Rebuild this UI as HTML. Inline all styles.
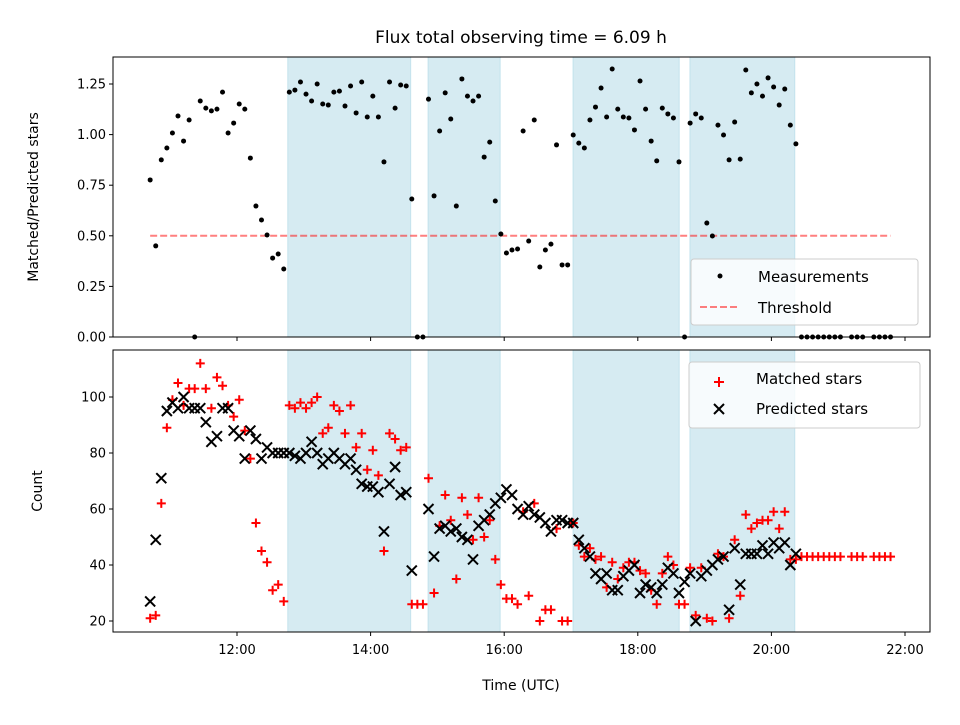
<!DOCTYPE html>
<html><head><meta charset="utf-8"><style>
body{margin:0;background:#fff;}
svg text{font-family:"DejaVu Sans","Liberation Sans",sans-serif;fill:#000;}
</style></head><body>
<svg id="chart" width="960" height="720" viewBox="0 0 960 720" xmlns="http://www.w3.org/2000/svg">
<rect width="960" height="720" fill="#fff"/>
<text x="521" y="43" font-size="17" text-anchor="middle">Flux total observing time = 6.09 h</text>
<g id="top"></g><g id="bot"></g>
</svg>
<script>
// time grid: start 10:42 UTC, one sample every 5 minutes
const startMinute = 642;
const stepMinutes = 5;
const ratio = [0.776,0.45,0.875,0.934,1.008,1.092,0.968,1.072,0,1.166,1.131,1.117,1.126,1.21,1.008,1.057,1.151,1.126,0.884,0.647,0.578,0.504,0.39,0.41,0.336,1.21,1.22,1.26,1.2,1.166,1.25,1.151,1.146,1.21,1.215,1.141,1.24,1.107,1.26,1.087,1.19,1.087,0.865,1.26,1.131,1.245,1.24,0.682,0,0,1.175,0.697,1.018,1.206,1.077,0.647,1.275,1.19,1.166,1.19,0.889,0.963,0.672,0.509,0.415,0.43,0.435,1.018,0.474,1.072,0.346,0.43,0.459,0.949,0.356,0.356,0.998,0.958,0.934,1.072,1.136,1.23,1.087,1.324,1.126,1.087,1.082,1.023,1.265,1.126,0.968,0.87,1.131,1.102,1.082,0.865,0,1.057,1.102,1.082,0.563,0.499,1.047,0.998,0.875,1.062,0.879,1.319,1.206,1.25,1.19,1.28,1.235,1.146,1.225,1.047,0.954,0,0,0,0,0,0,0,0,null,0,0,0,null,0,0,0,0];
const predicted = [27,49,71,95,98,96,100,96,96,96,91,84,86,96,96,88,86,78,88,85,78,82,80,80,80,80,79,78,80,84,80,76,78,80,78,76,78,74,69,68,68,66,52,69,75,65,66,38,null,null,60,43,53,54,52,53,50,49,42,54,56,58,62,64,67,65,60,58,61,58,57,55,52,56,56,55,55,49,46,43,37,35,37,31,31,36,38,40,30,33,32,30,33,39,37,30,34,37,20,36,38,40,42,43,24,46,33,44,44,44,47,44,48,46,48,40,44];
const matched = [21,22,62,89,99,105,97,103,103,112,103,96,107,104,97,93,99,88,78,55,45,41,31,33,27,97,96,98,96,98,100,87,89,97,95,87,97,82,87,74,81,72,45,87,85,81,82,26,26,26,71,30,54,65,56,35,64,58,49,64,50,56,42,33,28,28,26,59,29,62,20,24,24,53,20,20,55,47,43,46,42,43,32,41,35,39,41,41,38,37,31,26,37,43,40,26,26,39,22,39,21,20,44,43,21,49,29,58,53,55,56,56,59,53,59,42,42,43,43,43,43,43,43,43,43,null,43,43,43,null,43,43,43,43];
const spans = [[12.76,14.60],[14.86,15.94],[17.03,18.62],[18.78,20.35]];
const threshold = 0.5;
const topTicks = [0,0.25,0.5,0.75,1.0,1.25];
const topTickLabels = ["0.00","0.25","0.50","0.75","1.00","1.25"];
const botTicks = [20,40,60,80,100];
const xTicks = [12,14,16,18,20,22];
const xTickLabels = ["12:00","14:00","16:00","18:00","20:00","22:00"];

const NS="http://www.w3.org/2000/svg";
const L=113,R=930;
const xs=h=>237+(h-12)*66.8;
const yTop=v=>337-v*202.4;
const yBot=v=>397+(100-v)*2.8;
const tHour=i=>(startMinute+i*stepMinutes)/60;
function mk(parent,tag,attrs){const e=document.createElementNS(NS,tag);for(const k in attrs)e.setAttribute(k,attrs[k]);parent.appendChild(e);return e;}

function panel(g,y0,y1,name){
  spans.forEach((s,i)=>{const r=mk(g,'rect',{x:xs(s[0]),y:y0,width:xs(s[1])-xs(s[0]),height:y1-y0,fill:'#add8e6','fill-opacity':0.5,stroke:'#add8e6','stroke-opacity':0.6});
    
    });
}
function frame(g,y0,y1,name){
  const f=mk(g,'rect',{x:L,y:y0,width:R-L,height:y1-y0,fill:'none',stroke:'#000','stroke-width':1});
  
  
  xTicks.forEach(t=>mk(g,'line',{x1:xs(t),x2:xs(t),y1:y1,y2:y1+4,stroke:'#000'}));
}
// top panel
const gt=document.getElementById('top');
panel(gt,57,337,'top');
const th=mk(gt,'line',{x1:xs(tHour(0)),x2:xs(tHour(ratio.length-1)),y1:yTop(threshold),y2:yTop(threshold),stroke:'red','stroke-opacity':0.5,'stroke-width':2,'stroke-dasharray':'7,3'});


ratio.forEach((v,i)=>{if(v===null)return;const c=mk(gt,'circle',{cx:xs(tHour(i)),cy:yTop(v),r:2.5,fill:'#000'});
  
  });
frame(gt,57,337,'top');
topTicks.forEach((t,i)=>{mk(gt,'line',{x1:L-4,x2:L,y1:yTop(t),y2:yTop(t),stroke:'#000'});
  const tx=mk(gt,'text',{x:L-7,y:yTop(t)+4.5,'font-size':13,'text-anchor':'end'});tx.textContent=topTickLabels[i];
  
  });
const yl1=mk(gt,'text',{x:0,y:0,'font-size':14,'text-anchor':'middle',transform:'translate(38,197) rotate(-90)'});yl1.textContent='Matched/Predicted stars';


// top legend
const lg1=mk(gt,'g',{});


mk(lg1,'rect',{x:691,y:259,width:227,height:66,rx:3,fill:'#fff','fill-opacity':0.8,stroke:'#ccc'});
mk(lg1,'circle',{cx:720,cy:276,r:2.5,fill:'#000'});
mk(lg1,'line',{x1:700,x2:740,y1:307,y2:307,stroke:'red','stroke-opacity':0.5,'stroke-width':2,'stroke-dasharray':'7,3'});
let t1=mk(lg1,'text',{x:758,y:282,'font-size':15});t1.textContent='Measurements';
let t2=mk(lg1,'text',{x:758,y:313,'font-size':15});t2.textContent='Threshold';

// bottom panel
const gb=document.getElementById('bot');
panel(gb,350,632,'bottom');
matched.forEach((v,i)=>{if(v===null)return;const x=xs(tHour(i)),y=yBot(v);
  const p=mk(gb,'path',{d:`M${x-4.5},${y}H${x+4.5}M${x},${y-4.5}V${y+4.5}`,stroke:'red','stroke-width':2});
  
  });
predicted.forEach((v,i)=>{if(v===null)return;const x=xs(tHour(i)),y=yBot(v);
  const p=mk(gb,'path',{d:`M${x-5},${y-5}L${x+5},${y+5}M${x-5},${y+5}L${x+5},${y-5}`,stroke:'#000','stroke-width':2});
  
  });
frame(gb,350,632,'bottom');
botTicks.forEach(t=>{mk(gb,'line',{x1:L-4,x2:L,y1:yBot(t),y2:yBot(t),stroke:'#000'});
  const tx=mk(gb,'text',{x:L-7,y:yBot(t)+4.5,'font-size':13,'text-anchor':'end'});tx.textContent=t;
  
  });
xTicks.forEach((t,i)=>{const tx=mk(gb,'text',{x:xs(t),y:654,'font-size':13,'text-anchor':'middle'});tx.textContent=xTickLabels[i];
  
  });
const yl2=mk(gb,'text',{x:0,y:0,'font-size':14,'text-anchor':'middle',transform:'translate(42,491) rotate(-90)'});yl2.textContent='Count';


const xl=mk(gb,'text',{x:521,y:690,'font-size':14,'text-anchor':'middle'});xl.textContent='Time (UTC)';


const lg2=mk(gb,'g',{});


mk(lg2,'rect',{x:689,y:362,width:231,height:66,rx:3,fill:'#fff','fill-opacity':0.8,stroke:'#ccc'});
mk(lg2,'path',{d:'M714,382H724M719,377V387',stroke:'red','stroke-width':2});
mk(lg2,'path',{d:'M714,404L724,414M714,414L724,404',stroke:'#000','stroke-width':2});
let t3=mk(lg2,'text',{x:756,y:384,'font-size':15});t3.textContent='Matched stars';
let t4=mk(lg2,'text',{x:756,y:414,'font-size':15});t4.textContent='Predicted stars';
</script>
</body></html>
